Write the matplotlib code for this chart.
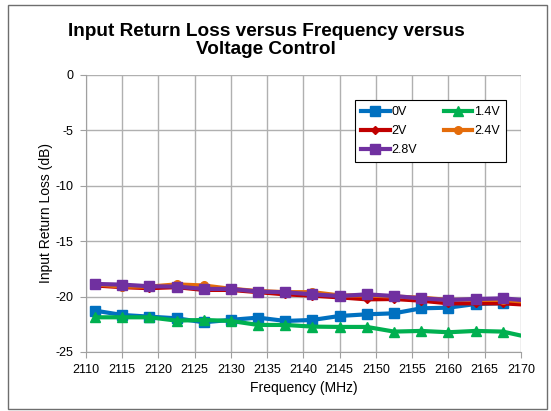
import matplotlib
matplotlib.use("Agg")
import matplotlib.pyplot as plt
from matplotlib.patches import Rectangle

plt.rcParams['font.family'] = ['Liberation Sans', 'DejaVu Sans']
plt.rcParams['axes.unicode_minus'] = False

freq = [2111.25, 2115, 2118.75, 2122.5, 2126.25, 2130, 2133.75, 2137.5, 2141.25,
        2145, 2148.75, 2152.5, 2156.25, 2160, 2163.75, 2167.5, 2171.25]
v0 = [-21.27, -21.66, -21.81, -21.96, -22.32, -22.1, -21.9, -22.2, -22.11,
      -21.75, -21.6, -21.51, -21.06, -21.0, -20.67, -20.6, -20.15]
v14 = [-21.87, -21.87, -21.87, -22.17, -22.11, -22.2, -22.56, -22.56, -22.71,
       -22.74, -22.74, -23.16, -23.1, -23.22, -23.1, -23.16, -23.7]
v2 = [-19.0, -19.15, -19.24, -19.15, -19.4, -19.4, -19.6, -19.8, -19.92,
      -20.07, -20.25, -20.22, -20.37, -20.61, -20.61, -20.61, -20.75]
v24 = [-18.9, -19.1, -19.1, -18.9, -19.0, -19.3, -19.5, -19.6, -19.6,
       -19.9, -19.9, -20.0, -20.1, -20.3, -20.3, -20.3, -20.5]
v28 = [-18.86, -18.92, -19.07, -19.1, -19.31, -19.31, -19.55, -19.61, -19.8,
       -19.95, -19.8, -19.95, -20.16, -20.31, -20.22, -20.16, -20.37]

labels = ['0V', '1.4V', '2V', '2.4V', '2.8V']
xticks = list(range(2110, 2171, 5))
yticks = [0, -5, -10, -15, -20, -25]

fig = plt.figure(figsize=(5.51, 4.11), dpi=100)
fig.patches.append(Rectangle((0.015, 0.006), 0.978, 0.982, transform=fig.transFigure,
                             fill=False, edgecolor='#6e6e6e', linewidth=1))
ax = fig.add_axes([0.156, 0.1436, 0.7894, 0.674])

series = [
    (v0, '#0070C0', 's', 6.5),
    (v14, '#00B050', '^', 6.5),
    (v2, '#C00000', 'D', 4),
    (v24, '#E46C0A', 'o', 5.5),
    (v28, '#7030A0', 's', 6.5),
]
handles = []
for (vals, col, mk, ms), lab in zip(series, labels):
    h, = ax.plot(freq, vals, color=col, marker=mk, markersize=ms, linewidth=3,
                 label=lab, solid_joinstyle='round')
    handles.append(h)

ax.set_xlim(2110, 2170)
ax.set_ylim(-25, 0)
ax.set_xticks(xticks)
ax.set_yticks(yticks)
ax.grid(True, color='#b0b0b0', linewidth=1)
ax.set_axisbelow(True)
for s in ['top', 'right']:
    ax.spines[s].set_visible(False)
for s in ['left', 'bottom']:
    ax.spines[s].set_color('#a0a0a0')
ax.tick_params(axis='both', labelsize=9, length=4, color='#a0a0a0')
ax.tick_params(axis='y', pad=5)
ax.tick_params(axis='x', pad=5)
ax.set_xlabel('Frequency (MHz)', fontsize=10, labelpad=3)
ax.set_ylabel('Input Return Loss (dB)', fontsize=10)
ax.yaxis.set_label_coords(-0.076, 0.5)

order = [0, 2, 4, 1, 3]
leg = ax.legend([handles[i] for i in order], [labels[i] for i in order], ncol=2,
                loc='upper left', bbox_to_anchor=(0.618, 0.91), fontsize=9,
                frameon=True, fancybox=False, edgecolor='black', framealpha=1,
                handlelength=2.3, columnspacing=2.1, handletextpad=0.15,
                borderpad=0.5, labelspacing=0.55, borderaxespad=0)
leg.get_frame().set_linewidth(0.8)

fig.text(0.483, 0.902, 'Input Return Loss versus Frequency versus\nVoltage Control',
         ha='center', va='center', fontsize=13.7, fontweight='bold', linespacing=1.05)

fig.savefig('out.png', dpi=100)
